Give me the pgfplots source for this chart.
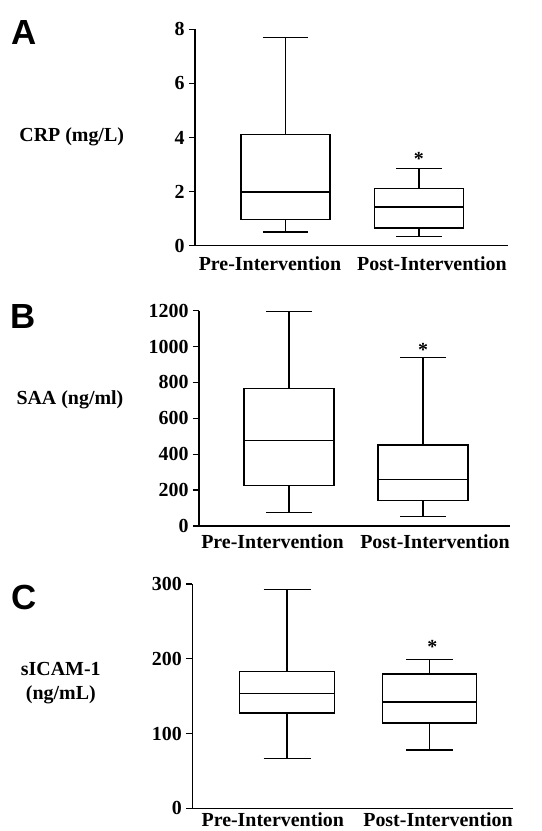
\documentclass[border=0pt]{standalone}
\usepackage{pgfplots}
\pgfplotsset{compat=1.18}
\usepgfplotslibrary{statistics}
\usepackage{fontspec}
\setmainfont{Liberation Serif}
\newfontfamily\panelfont{Liberation Sans}

\pgfplotsset{
  panel/.style={
    scale only axis,
    clip=false,
    axis x line*=bottom,
    axis y line*=left,
    axis line style={line width=1.5bp, black},
    tick align=outside,
    major tick length=6bp,
    ytick style={line width=1.3bp, black},
    xtick style={draw=none},
    boxplot/draw direction=y,
    /pgf/number format/assume math mode=true,
    /pgf/number format/1000 sep={},
    scaled ticks=false,
    tick label style={font=\fontsize{20}{24}\selectfont\bfseries},
    yticklabel style={xshift=-1bp},
    xticklabels={Pre-Intervention,Post-Intervention},
    ymin=0,
  },
  bx/.style={black, line width=1.4bp, solid, mark=none, fill=none},
}

\begin{document}
\begin{tikzpicture}
\useasboundingbox (0,0) rectangle (542bp,831bp);

% Panel A
\begin{axis}[panel,
  at={(195bp,585.3bp)}, anchor=south west,
  width=313bp, height=216.4bp,
  xmin=0.322, xmax=2.667, ymax=8,
  ytick={0,2,4,6,8},
  xtick={0.884,2.097},
  xticklabel style={yshift=-1bp},
]
\addplot[bx, boxplot prepared={median=1.99, upper quartile=4.12, lower quartile=0.96,
  upper whisker=7.69, lower whisker=0.51, draw position=1, box extend=0.667, whisker extend=0.34}]
  coordinates {};
\addplot[bx, boxplot prepared={median=1.43, upper quartile=2.12, lower quartile=0.65,
  upper whisker=2.86, lower whisker=0.35, draw position=2, box extend=0.667, whisker extend=0.34}]
  coordinates {};
\node[font=\fontsize{20}{24}\selectfont\bfseries] at (axis cs:2,3.22) {*};
\node[font=\fontsize{20}{24}\selectfont\bfseries] at (axis description cs:-0.394,0.502) {CRP (mg/L)};
\node[font=\fontsize{35}{40}\selectfont\panelfont\bfseries] at (axis description cs:-0.545,0.985) {A};
\end{axis}

% Panel B
\begin{axis}[panel,
  at={(199bp,305bp)}, anchor=south west,
  width=311bp, height=215.3bp,
  xmin=0.327, xmax=2.65, ymax=1200,
  ytick={0,200,400,600,800,1000,1200},
  xtick={0.876,2.09},
  xticklabel style={yshift=1bp},
]
\addplot[bx, boxplot prepared={median=475, upper quartile=767, lower quartile=225,
  upper whisker=1194, lower whisker=74, draw position=1, box extend=0.673, whisker extend=0.34}]
  coordinates {};
\addplot[bx, boxplot prepared={median=258, upper quartile=451, lower quartile=141,
  upper whisker=940, lower whisker=54, draw position=2, box extend=0.673, whisker extend=0.34}]
  coordinates {};
\node[font=\fontsize{20}{24}\selectfont\bfseries] at (axis cs:2,980) {*};
\node[font=\fontsize{20}{24}\selectfont\bfseries] at (axis description cs:-0.415,0.585) {SAA (ng/ml)};
\node[font=\fontsize{35}{40}\selectfont\panelfont\bfseries] at (axis description cs:-0.566,0.975) {B};
\end{axis}

% Panel C
\begin{axis}[panel,
  at={(192.3bp,22.7bp)}, anchor=south west,
  width=320.7bp, height=224.3bp,
  xmin=0.335, xmax=2.586, ymax=300,
  ytick={0,100,200,300},
  xtick={0.90,2.06},
  xticklabel style={yshift=5bp},
]
\addplot[bx, boxplot prepared={median=153.8, upper quartile=183, lower quartile=127.5,
  upper whisker=292.9, lower whisker=66.9, draw position=1, box extend=0.67, whisker extend=0.33}]
  coordinates {};
\addplot[bx, boxplot prepared={median=142.2, upper quartile=179.6, lower quartile=114.1,
  upper whisker=199.3, lower whisker=78, draw position=2, box extend=0.66, whisker extend=0.33}]
  coordinates {};
\node[font=\fontsize{20}{24}\selectfont\bfseries] at (axis cs:2.02,216) {*};
\node[font=\fontsize{20}{24}\selectfont\bfseries, align=center] at (axis description cs:-0.41,0.559) {sICAM-1\\(ng/mL)};
\node[font=\fontsize{35}{40}\selectfont\panelfont\bfseries] at (axis description cs:-0.525,0.942) {C};
\end{axis}
\end{tikzpicture}
\end{document}
